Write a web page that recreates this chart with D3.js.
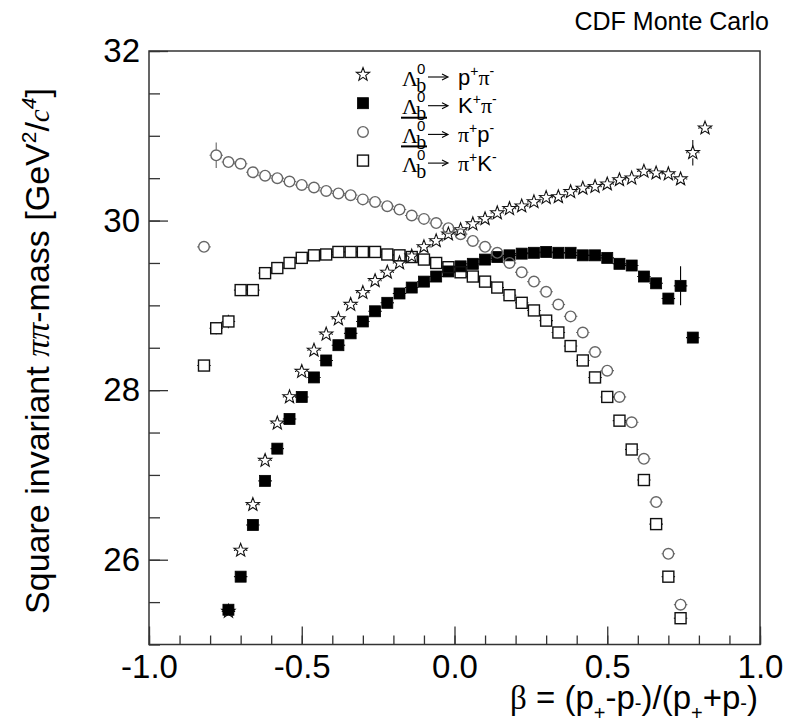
<!DOCTYPE html>
<html>
<head>
<meta charset="utf-8">
<script src="https://cdn.jsdelivr.net/npm/d3@7"></script>
<style>
body { margin: 0; background: #fff; }
</style>
</head>
<body>
<div id="chart"></div>
<script>
// bin centres (0.04 wide)
var betaA = [-0.82,-0.78,-0.74,-0.70,-0.66,-0.62,-0.58,-0.54,-0.50,-0.46,-0.42,-0.38,-0.34,-0.30,-0.26,-0.22,-0.18,-0.14,-0.10,-0.06,
	-0.02,0.02,0.06,0.10,0.14,0.18,0.22,0.26,0.30,0.34,0.38,0.42,0.46,0.50,0.54,0.58,0.62,0.66,0.70,0.74];
var betaB = [-0.74,-0.70,-0.66,-0.62,-0.58,-0.54,-0.50,-0.46,-0.42,-0.38,-0.34,-0.30,-0.26,-0.22,-0.18,-0.14,-0.10,-0.06,-0.02,0.02,
	0.06,0.10,0.14,0.18,0.22,0.26,0.30,0.34,0.38,0.42,0.46,0.50,0.54,0.58,0.62,0.66,0.70,0.74,0.78,0.82];

// Lambda_b -> p+ pi-
var pPi = [25.39,26.11,26.65,27.17,27.61,27.92,28.22,28.47,28.66,28.84,29.01,29.15,29.29,29.39,29.50,29.58,29.69,29.76,29.84,29.89,
	29.96,30.02,30.09,30.14,30.17,30.22,30.27,30.28,30.34,30.38,30.40,30.43,30.48,30.50,30.58,30.56,30.55,30.49,30.80,31.09];
// Lambda_b -> K+ pi-
var kPi = [25.41,25.80,26.41,26.93,27.31,27.66,27.92,28.15,28.35,28.53,28.67,28.81,28.93,29.03,29.14,29.21,29.28,29.34,29.40,29.46,
	29.49,29.54,29.57,29.59,29.61,29.62,29.63,29.62,29.62,29.59,29.59,29.56,29.49,29.47,29.34,29.26,29.08,29.23,28.62];
// anti-Lambda_b -> pi+ p-
var piP = [29.69,30.77,30.69,30.67,30.57,30.53,30.50,30.46,30.42,30.39,30.35,30.32,30.30,30.25,30.22,30.17,30.13,30.06,30.02,29.97,
	29.91,29.84,29.76,29.69,29.62,29.50,29.39,29.28,29.16,29.01,28.87,28.68,28.45,28.23,27.92,27.62,27.19,26.68,26.07,25.47];
// anti-Lambda_b -> pi+ K-
var piK = [28.29,28.73,28.81,29.18,29.18,29.38,29.44,29.50,29.56,29.59,29.60,29.63,29.63,29.63,29.63,29.60,29.59,29.57,29.54,29.50,
	29.45,29.39,29.34,29.28,29.21,29.12,29.03,28.94,28.82,28.68,28.52,28.35,28.15,27.92,27.64,27.30,26.94,26.42,25.80,25.31];

// the few vertical errors big enough to show: [series, beta, error]
var bigErrors = [
	['piP', -0.78, 0.15],
	['piK', -0.78, 0.07],
	['piK', -0.74, 0.08],
	['piP', 0.74, 0.07],
	['pPi', 0.78, 0.15],
	['kPi', 0.74, 0.23]
];

var xMajor = [-1.0, -0.5, 0.0, 0.5, 1.0];
var yMajor = [26, 28, 30, 32];

var width = 798, height = 727;
var svg = d3.select('#chart').append('svg')
	.attr('width', width)
	.attr('height', height);

var x = d3.scaleLinear().domain([-1, 1]).range([149, 760]);
var y = d3.scaleLinear().domain([25, 32]).range([644.5, 51]);

var axisColor = '#333';
var sans = '"Liberation Sans", Arial, Helvetica, sans-serif';
var serif = '"Liberation Serif", "Times New Roman", serif';

// frame
svg.append('rect')
	.attr('x', x(-1)).attr('y', y(32))
	.attr('width', x(1) - x(-1)).attr('height', y(25) - y(32))
	.attr('fill', 'none').attr('stroke', axisColor).attr('stroke-width', 1.5);

// axes, ticks pointing inside like ROOT
function styleAxis(g) {
	g.select('.domain').remove();
	g.selectAll('line').attr('stroke', axisColor).attr('stroke-width', 1.3);
	g.selectAll('text').attr('font-family', sans).attr('font-size', 33).attr('fill', '#000');
}

svg.append('g').attr('transform', 'translate(0,' + y(25) + ')')
	.call(d3.axisBottom(x).tickValues(d3.range(-10, 11).map(function(i){ return i / 10; }))
		.tickSize(-9).tickFormat(''))
	.call(styleAxis);
svg.append('g').attr('transform', 'translate(0,' + y(25) + ')')
	.call(d3.axisBottom(x).tickValues(xMajor).tickSize(-18).tickPadding(10)
		.tickFormat(d3.format('.1f')))
	.call(styleAxis)
	.selectAll('text').text(function(d){ return d3.format('.1f')(d).replace('−', '-'); });

svg.append('g').attr('transform', 'translate(' + x(-1) + ',0)')
	.call(d3.axisLeft(y).tickValues(d3.range(50, 65).map(function(i){ return i / 2; }))
		.tickSize(-11).tickFormat(''))
	.call(styleAxis);
svg.append('g').attr('transform', 'translate(' + x(-1) + ',0)')
	.call(d3.axisLeft(y).tickValues(yMajor).tickSize(-19).tickPadding(9).tickFormat(d3.format('d')))
	.call(styleAxis);

// axis titles
var xt = svg.append('text')
	.attr('x', 758).attr('y', 709)
	.attr('text-anchor', 'end')
	.attr('font-family', sans).attr('font-size', 33);
xt.append('tspan').attr('font-family', serif).text('β');
xt.append('tspan').text(' = (p');
xt.append('tspan').attr('font-size', 20).attr('dy', 11).text('+');
xt.append('tspan').attr('dy', -11).text('-p');
xt.append('tspan').attr('font-size', 20).attr('dy', 1).text('-');
xt.append('tspan').attr('dy', -1).text(')/(p');
xt.append('tspan').attr('font-size', 20).attr('dy', 11).text('+');
xt.append('tspan').attr('dy', -11).text('+p');
xt.append('tspan').attr('font-size', 20).attr('dy', 1).text('-');
xt.append('tspan').attr('dy', -1).text(')');

var yt = svg.append('text')
	.attr('transform', 'translate(49,351) rotate(-90)')
	.attr('text-anchor', 'middle')
	.attr('font-family', sans).attr('font-size', 34);
yt.append('tspan').text('Square invariant ');
yt.append('tspan').attr('font-family', serif).attr('font-style', 'italic').text('ππ');
yt.append('tspan').text('-mass [GeV');
yt.append('tspan').attr('font-size', 21).attr('dy', -13).text('2');
yt.append('tspan').attr('dy', 13).text('/');
yt.append('tspan').attr('font-family', serif).attr('font-style', 'italic').attr('font-size', 29).text('c');
yt.append('tspan').attr('font-size', 21).attr('font-style', 'italic').attr('dy', -13).text('4');
yt.append('tspan').attr('dy', 13).text(']');

svg.append('text')
	.attr('x', 769).attr('y', 30)
	.attr('text-anchor', 'end')
	.attr('font-family', sans).attr('font-size', 25)
	.text('CDF Monte Carlo');

// markers
var half = 5.5;
function starPath(cx, cy) {
	var pts = [];
	for (var i = 0; i < 10; i++) {
		var r = i % 2 === 0 ? 7 : 2.9;
		var a = -Math.PI / 2 + i * Math.PI / 5;
		pts.push([cx + r * Math.cos(a), cy + r * Math.sin(a)]);
	}
	return 'M' + pts.map(function(p){ return p[0].toFixed(2) + ',' + p[1].toFixed(2); }).join('L') + 'Z';
}

function drawMarker(g, type, cx, cy) {
	if (type === 'star') {
		g.append('path').attr('d', starPath(cx, cy))
			.attr('fill', 'none').attr('stroke', '#111').attr('stroke-width', 1.1);
	} else if (type === 'filled') {
		g.append('rect').attr('x', cx - half).attr('y', cy - half)
			.attr('width', 2 * half).attr('height', 2 * half)
			.attr('fill', '#000').attr('stroke', '#000').attr('stroke-width', 0.8);
	} else if (type === 'circle') {
		g.append('circle').attr('cx', cx).attr('cy', cy).attr('r', 5.3)
			.attr('fill', 'none').attr('stroke', '#666').attr('stroke-width', 1.4);
	} else {
		g.append('rect').attr('x', cx - half).attr('y', cy - half)
			.attr('width', 2 * half).attr('height', 2 * half)
			.attr('fill', 'none').attr('stroke', '#111').attr('stroke-width', 1.4);
	}
}

var series = [
	{ key: 'pPi', type: 'star', xs: betaB, ys: pPi, color: '#111' },
	{ key: 'kPi', type: 'filled', xs: betaB, ys: kPi, color: '#000' },
	{ key: 'piP', type: 'circle', xs: betaA, ys: piP, color: '#666' },
	{ key: 'piK', type: 'open', xs: betaA, ys: piK, color: '#111' }
];

series.forEach(function(s) {
	var g = svg.append('g').attr('id', s.key);
	s.ys.forEach(function(v, i) {
		var b = s.xs[i];
		var cx = x(b), cy = y(v);
		// horizontal bar = bin half width, only outside the marker
		g.append('line').attr('x1', x(b - 0.022)).attr('x2', cx - half).attr('y1', cy).attr('y2', cy)
			.attr('stroke', s.color).attr('stroke-width', 1.1);
		g.append('line').attr('x1', cx + half).attr('x2', x(b + 0.022)).attr('y1', cy).attr('y2', cy)
			.attr('stroke', s.color).attr('stroke-width', 1.1);
		bigErrors.forEach(function(e) {
			if (e[0] === s.key && Math.abs(e[1] - b) < 1e-6) {
				g.append('line').attr('x1', cx).attr('x2', cx).attr('y1', y(v + e[2])).attr('y2', cy - half)
					.attr('stroke', s.color).attr('stroke-width', 1.1);
				g.append('line').attr('x1', cx).attr('x2', cx).attr('y1', cy + half).attr('y2', y(v - e[2]))
					.attr('stroke', s.color).attr('stroke-width', 1.1);
			}
		});
		drawMarker(g, s.type, cx, cy);
	});
});

// legend
var legendRows = [
	{ type: 'star', bar: false, a: 'p', b: 'π' },
	{ type: 'filled', bar: true, a: 'K', b: 'π' },
	{ type: 'circle', bar: true, a: 'π', b: 'p' },
	{ type: 'open', bar: false, a: 'π', b: 'K' }
];
var leg = svg.append('g').attr('id', 'legend');
legendRows.forEach(function(r, i) {
	var ry = 74.5 + i * 28.7;
	drawMarker(leg, r.type, 363, ry);

	// Lambda_b^0 as one text: superscript 0 stacked over subscript b
	var lam = leg.append('text').attr('x', 402).attr('y', ry + 11)
		.attr('font-family', serif).attr('font-size', 22);
	lam.append('tspan').text('Λ');
	lam.append('tspan').attr('font-family', sans).attr('font-size', 15).attr('dy', -12).attr('dx', -1).text('0');
	lam.append('tspan').attr('font-size', 20).attr('dy', 18).attr('dx', -9).text('b');
	if (r.bar) {
		leg.append('line').attr('x1', 401).attr('x2', 427).attr('y1', ry + 14.5).attr('y2', ry + 14.5)
			.attr('stroke', '#000').attr('stroke-width', 2);
	}
	// arrow
	leg.append('path').attr('d', 'M428,' + (ry + 2.5) + 'H447')
		.attr('stroke', '#000').attr('stroke-width', 1.1);
	leg.append('path').attr('d', 'M442,' + (ry - 0.5) + 'L448,' + (ry + 2.5) + 'L442,' + (ry + 5.5))
		.attr('fill', 'none').attr('stroke', '#000').attr('stroke-width', 1.1);

	var t = leg.append('text').attr('x', 458).attr('y', ry + 10)
		.attr('font-family', sans).attr('font-size', 22);
	t.append('tspan').attr('font-family', r.a === 'π' ? serif : sans).text(r.a);
	t.append('tspan').attr('font-size', 14).attr('dy', -9).text('+');
	t.append('tspan').attr('font-family', r.b === 'π' ? serif : sans).attr('dy', 9).text(r.b);
	t.append('tspan').attr('font-size', 14).attr('dy', -9).text('-');
});
</script>
</body>
</html>
